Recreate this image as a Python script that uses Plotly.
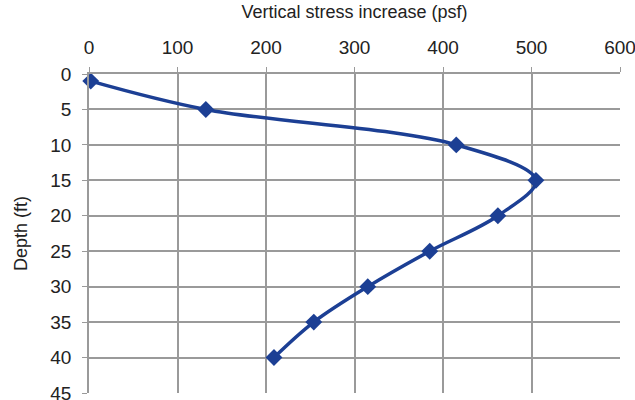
import plotly.graph_objects as go

stress_psf = [2, 132, 415, 505, 462, 385, 315, 254, 209]
depth_ft = [1, 5, 10, 15, 20, 25, 30, 35, 40]
x_ticks = [0, 100, 200, 300, 400, 500, 600]
y_ticks = [0, 5, 10, 15, 20, 25, 30, 35, 40, 45]

blue = "#1c3f94"
grid = "#9a9a9a"
font = dict(family="Liberation Sans, Arial, sans-serif", size=19, color="#222222")

fig = go.Figure()
fig.add_trace(go.Scatter(
    x=stress_psf, y=depth_ft, mode="lines+markers",
    line=dict(color=blue, width=3.5, shape="spline", smoothing=1),
    marker=dict(symbol="diamond", size=13, color=blue),
    showlegend=False, cliponaxis=False,
))

fig.update_layout(
    width=635, height=400,
    margin=dict(l=89, r=15, t=74, b=7),
    paper_bgcolor="white", plot_bgcolor="white",
    font=font,
)
fig.update_xaxes(
    side="top", range=[0, 600], tickvals=x_ticks, automargin=False,
    showgrid=True, gridcolor=grid, gridwidth=1.5,
    showline=True, linecolor=grid, linewidth=1.5,
    ticks="outside", ticklen=5, tickcolor=grid, ticklabelstandoff=6,
    ticklabeloverflow="allow",
    zeroline=False,
    title=dict(text="Vertical stress increase (psf)", font=dict(size=18), standoff=13),
)
fig.update_yaxes(
    range=[45, 0], tickvals=y_ticks, automargin=False,
    showgrid=True, gridcolor=grid, gridwidth=1.5,
    showline=True, linecolor=grid, linewidth=1.5,
    ticks="outside", ticklen=5, tickcolor=grid, ticklabelstandoff=7,
    ticklabeloverflow="allow",
    zeroline=False,
    title=dict(text="Depth (ft)", font=dict(size=18), standoff=18),
)

fig.write_html("out.html", config={"displayModeBar": False},
               post_script="document.body.style.margin='0';")
